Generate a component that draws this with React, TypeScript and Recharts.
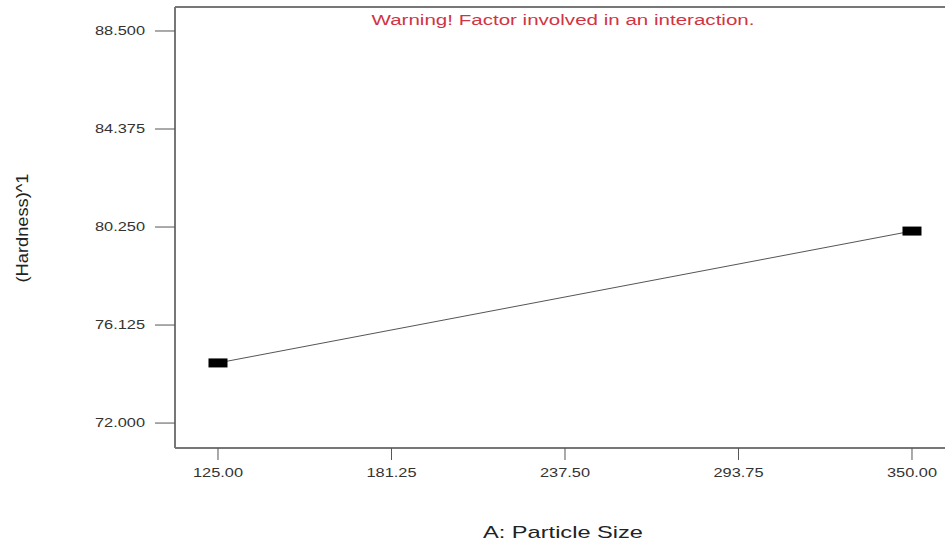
import React from 'react';
import { LineChart, Line, XAxis, YAxis, Customized, ReferenceLine } from 'recharts';

const particleSize = [125, 350];
const hardness = [74.53, 80.08];
const xTicks = [125, 181.25, 237.5, 293.75, 350];
const yTicks = [72, 76.125, 80.25, 84.375, 88.5];
const titleText = 'Warning! Factor involved in an interaction.';
const xLabel = 'A: Particle Size';
const yLabel = '(Hardness)^1';

const data = particleSize.map((x, i) => ({ x, y: hardness[i] }));
const FONT = 'Arial, Liberation Sans, sans-serif';

const RectDot = (props: any) => {
  const { cx, cy } = props;
  if (cx == null || cy == null) return null;
  return <rect x={cx - 9.5} y={cy - 4.5} width={19} height={9} fill="#000" />;
};

const XTick = (props: any) => {
  const { x, y, payload } = props;
  return (
    <text x={x} y={y} dy="0.71em" textAnchor="middle" fontFamily={FONT} fontSize={12} fill="#333"
      textLength={50} lengthAdjust="spacingAndGlyphs">
      {Number(payload.value).toFixed(2)}
    </text>
  );
};

const YTick = (props: any) => {
  const { x, y, payload } = props;
  return (
    <text x={x} y={y} dy="0.355em" textAnchor="end" fontFamily={FONT} fontSize={12} fill="#333"
      textLength={50} lengthAdjust="spacingAndGlyphs">
      {Number(payload.value).toFixed(3)}
    </text>
  );
};

const Texts = () => (
  <g>
    <text x={563} y={25} textAnchor="middle" fontFamily={FONT} fontSize={14} fill="#d03444"
      textLength={383} lengthAdjust="spacingAndGlyphs">
      {titleText}
    </text>
    <text x={563} y={538} textAnchor="middle" fontFamily={FONT} fontSize={17} fill="#222"
      textLength={160} lengthAdjust="spacingAndGlyphs">
      {xLabel}
    </text>
    <text
      x={22}
      y={228}
      textAnchor="middle"
      dominantBaseline="central"
      transform="rotate(-90 22 228)"
      fontFamily={FONT}
      fontSize={17}
      fill="#222"
      textLength={109}
      lengthAdjust="spacingAndGlyphs"
    >
      {yLabel}
    </text>
  </g>
);

export default function App() {
  return (
    <div style={{ position: 'absolute', left: 0, top: 0 }}>
      <LineChart width={945} height={544} data={data} margin={{ top: 7, right: 0, bottom: 0, left: 0 }}>
        <XAxis
          dataKey="x"
          type="number"
          domain={[111.06, 360.7]}
          ticks={xTicks}
          height={96}
          tickSize={12}
          tickMargin={8}
          axisLine={{ stroke: '#777', strokeWidth: 2 }}
          tickLine={{ stroke: '#555', strokeWidth: 1 }}
          tick={<XTick />}
          allowDataOverflow
        />
        <YAxis
          type="number"
          domain={[70.95, 89.51]}
          ticks={yTicks}
          width={175}
          tickSize={20}
          tickMargin={10}
          axisLine={{ stroke: '#777', strokeWidth: 2 }}
          tickLine={{ stroke: '#555', strokeWidth: 1 }}
          tick={<YTick />}
          allowDataOverflow
        />
        <ReferenceLine y={89.51} stroke="#777" strokeWidth={2} ifOverflow="visible" />
        <Line
          dataKey="y"
          stroke="#555"
          strokeWidth={1}
          dot={<RectDot />}
          activeDot={false}
          isAnimationActive={false}
        />
        <Customized component={Texts} />
      </LineChart>
    </div>
  );
}
